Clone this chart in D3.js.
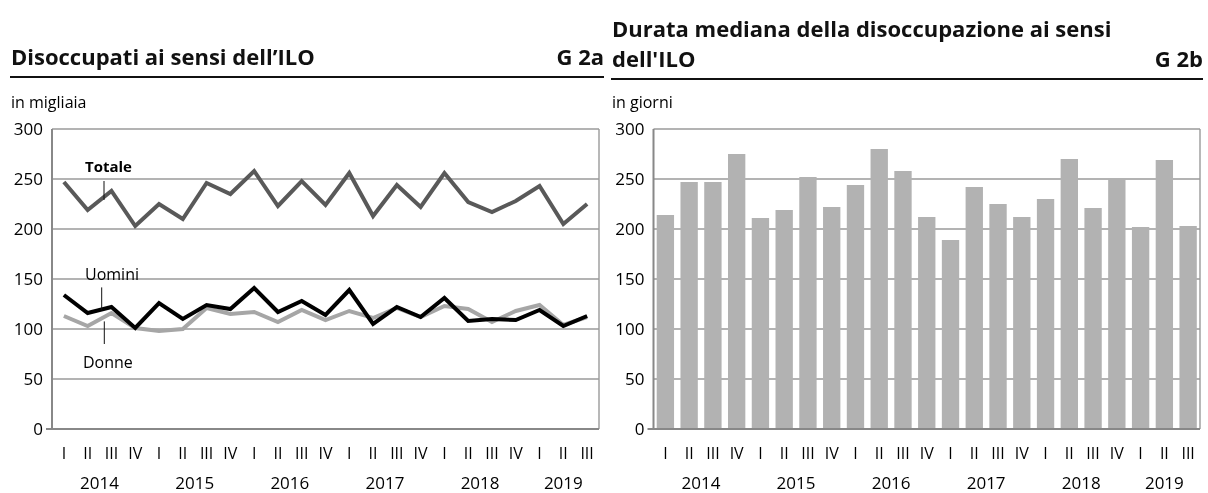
<!DOCTYPE html>
<html lang="it">
<head>
<meta charset="UTF-8">
<title>Disoccupati ai sensi dell'ILO</title>
<script src="https://d3js.org/d3.v7.min.js"></script>
<style>
  body { margin: 0; background: #fff; font-family: "Open Sans", sans-serif; }
  svg { will-change: transform; }
  .title { font-size: 22px; font-weight: 700; fill: #111; }
  .unit { font-size: 16px; fill: #000; }
  .tick-y { font-size: 17px; fill: #000; }
  .tick-q { font-size: 16px; fill: #000; }
  .tick-yr { font-size: 17px; fill: #000; }
</style>
</head>
<body>
<svg id="chart" width="1208" height="493"></svg>
<script>
const years = [2014, 2015, 2016, 2017, 2018, 2019];
const quarterNames = ["I", "II", "III", "IV"];
const yTicks = [0, 50, 100, 150, 200, 250, 300];

// G 2a, in migliaia
const totale = [247, 219, 238, 203, 225, 210, 246, 235, 258, 223, 248, 224, 256, 213, 244, 222, 256, 227, 217, 228, 243, 205, 225];
const uomini = [134, 116, 122, 101, 126, 110, 124, 120, 141, 117, 128, 114, 139, 105, 122, 112, 131, 108, 110, 109, 119, 103, 113];
const donne  = [113, 103, 116, 101, 98, 100, 121, 115, 117, 107, 119, 109, 118, 111, 121, 112, 123, 120, 107, 118, 124, 104, 112];

// G 2b, in giorni
const durata = [214, 247, 247, 275, 211, 219, 252, 222, 244, 280, 258, 212, 189, 242, 225, 212, 230, 270, 221, 250, 202, 269, 203];

// 23 trimestri: 2014 I ... 2019 III
const periods = [];
years.forEach(yr => quarterNames.forEach((q, i) => {
  if (periods.length < totale.length) periods.push({ year: yr, q: q, key: yr + "-" + (i + 1) });
}));

const svg = d3.select("#chart");
const plotTop = 129, plotBottom = 429;
const y = d3.scaleLinear().domain([0, 300]).range([plotBottom, plotTop]);

function frame(x0, x1, opts) {
  const g = svg.append("g");
  const x = d3.scaleBand().domain(periods.map(d => d.key)).range([x0, x1])
    .paddingInner(0.27).paddingOuter(0.135);

  // titolo
  opts.title.forEach((t, i) => {
    g.append("text").attr("class", "title").attr("x", opts.tx)
      .attr("y", opts.titleY - (opts.title.length - 1 - i) * 29.5).text(t);
  });
  g.append("text").attr("class", "title").attr("x", opts.gx).attr("y", opts.titleY)
    .attr("text-anchor", "end").text(opts.code);
  g.append("line").attr("x1", opts.rx).attr("x2", opts.gx)
    .attr("y1", opts.ruleY).attr("y2", opts.ruleY)
    .attr("stroke", "#111").attr("stroke-width", 2);
  g.append("text").attr("class", "unit").attr("x", opts.tx).attr("y", 108).text(opts.unit);

  // griglia
  g.selectAll(".grid").data(yTicks.filter(v => v > 0)).join("line")
    .attr("x1", x0).attr("x2", x1)
    .attr("y1", d => y(d)).attr("y2", d => y(d))
    .attr("stroke", "#9a9a9a").attr("stroke-width", 1.4);
  g.append("line").attr("x1", x1).attr("x2", x1).attr("y1", plotTop).attr("y2", plotBottom)
    .attr("stroke", "#9a9a9a").attr("stroke-width", 1.4);

  g.selectAll(".ty").data(yTicks).join("text").attr("class", "tick-y")
    .attr("x", x0 - 9).attr("y", d => y(d)).attr("dy", "0.36em")
    .attr("text-anchor", "end").text(d => d);

  g.selectAll(".tq").data(periods).join("text").attr("class", "tick-q")
    .attr("x", d => x(d.key) + x.bandwidth() / 2).attr("y", 459)
    .attr("text-anchor", "middle").text(d => d.q);

  g.selectAll(".tyr").data(years).join("text").attr("class", "tick-yr")
    .attr("x", yr => {
      const ps = periods.filter(p => p.year === yr);
      return (x(ps[0].key) + x(ps[ps.length - 1].key)) / 2 + x.bandwidth() / 2;
    })
    .attr("y", 489).attr("text-anchor", "middle").text(d => d);

  return { g, x, x0, x1 };
}

function axes(f) {
  f.g.append("line").attr("x1", f.x0).attr("x2", f.x0).attr("y1", plotTop).attr("y2", plotBottom)
    .attr("stroke", "#888").attr("stroke-width", 2);
  f.g.append("line").attr("x1", f.x0 - 6).attr("x2", f.x1).attr("y1", plotBottom).attr("y2", plotBottom)
    .attr("stroke", "#888").attr("stroke-width", 2);
}

// ---- G 2a ----
const left = frame(52, 599, {
  title: ["Disoccupati ai sensi dell\u2019ILO"], code: "G 2a",
  tx: 11, rx: 10, gx: 604, titleY: 65, ruleY: 77, unit: "in migliaia"
});
const cx = (d, i) => left.x(periods[i].key) + left.x.bandwidth() / 2;
const line = d3.line().x(cx).y(d => y(d));

[[donne, "#a6a6a6"], [uomini, "#000"], [totale, "#595959"]].forEach(([s, c]) => {
  left.g.append("path").datum(s).attr("d", line).attr("fill", "none")
    .attr("stroke", c).attr("stroke-width", 4).attr("stroke-linejoin", "miter");
});
axes(left);

const notes = [
  { text: "Totale", bold: true, tx: 85, tv: 256.6, lx: 104, l1: 248, l2: 229 },
  { text: "Uomini", bold: false, tx: 85, tv: 148.6, lx: 101.7, l1: 141.6, l2: 119 },
  { text: "Donne", bold: false, tx: 83, tv: 61, lx: 104.3, l1: 107.6, l2: 85 }
];
notes.forEach(n => {
  left.g.append("text").attr("x", n.tx).attr("y", y(n.tv))
    .style("font-size", n.bold ? "15px" : "16px")
    .style("font-weight", n.bold ? 700 : 400).attr("fill", "#000").text(n.text);
  left.g.append("line").attr("x1", n.lx).attr("x2", n.lx)
    .attr("y1", y(n.l1)).attr("y2", y(n.l2)).attr("stroke", "#111").attr("stroke-width", 1);
});

// ---- G 2b ----
const right = frame(653.5, 1200, {
  title: ["Durata mediana della disoccupazione ai sensi", "dell'ILO"], code: "G 2b",
  tx: 612, rx: 611, gx: 1203, titleY: 66.5, ruleY: 79, unit: "in giorni"
});
right.g.selectAll(".bar").data(durata).join("rect")
  .attr("x", (d, i) => right.x(periods[i].key))
  .attr("width", right.x.bandwidth())
  .attr("y", d => y(d)).attr("height", d => y(0) - y(d))
  .attr("fill", "#b2b2b2");
axes(right);
</script>
</body>
</html>
